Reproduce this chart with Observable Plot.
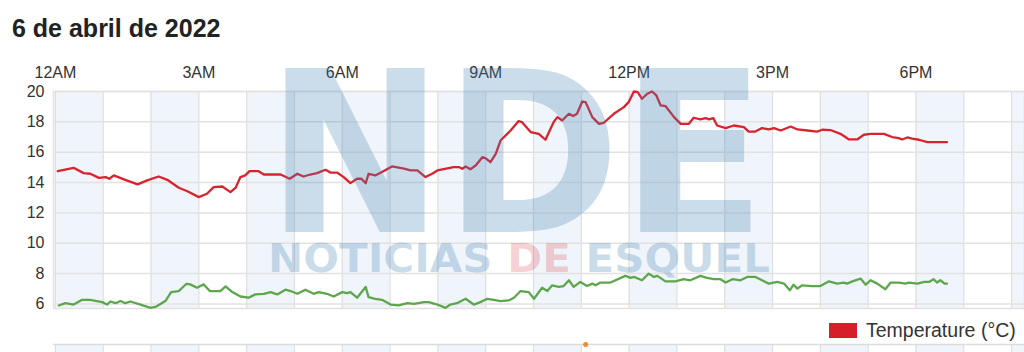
<!DOCTYPE html>
<html>
<head>
<meta charset="utf-8">
<script src="https://cdn.jsdelivr.net/npm/d3@7"></script>
<script src="https://cdn.jsdelivr.net/npm/@observablehq/plot@0.6"></script>
<style>
  html, body { margin: 0; padding: 0; background: #fff; width: 1024px; height: 352px; overflow: hidden; position: relative; font-family: "Liberation Sans", Arial, sans-serif; }
  #title { position: absolute; left: 12px; top: 16px; font-size: 25px; line-height: 25px; font-weight: bold; color: #222; white-space: nowrap; }
  #main { position: absolute; left: 0; top: 50px; }
  #legend { position: absolute; left: 829px; top: 320px; height: 20px; display: flex; align-items: center; font-size: 19.5px; color: #333; white-space: nowrap; }
  #legend .sw { width: 28px; height: 15px; background: #d61f2b; margin-right: 9px; }
  #second { position: absolute; left: 0; top: 343px; }
  #wm { position: absolute; left: 0; top: 0; pointer-events: none; }
</style>
</head>
<body>
<div id="title">6 de abril de 2022</div>
<div id="main"></div>
<div id="legend"><div class="sw"></div><span>Temperature (°C)</span></div>
<div id="second"></div>
<svg id="wm" width="1024" height="352" xmlns="http://www.w3.org/2000/svg">
  <text x="266" y="232" font-family="DejaVu Sans, sans-serif" font-weight="bold" font-size="225" textLength="500" lengthAdjust="spacingAndGlyphs" fill="rgba(70,130,180,0.28)">NDE</text>
  <text x="268" y="272" font-family="DejaVu Sans, sans-serif" font-weight="bold" font-size="39" textLength="502" lengthAdjust="spacingAndGlyphs" fill="rgba(70,130,180,0.28)">NOTICIAS <tspan fill="rgba(220,50,60,0.24)">DE</tspan> ESQUEL</text>
</svg>
<script>
// ---- data (hours since midnight, °C) ----
const xTicks = [0, 3, 6, 9, 12, 15, 18];
const xTickLabels = ["12AM", "3AM", "6AM", "9AM", "12PM", "3PM", "6PM"];
const yTicks = [6, 8, 10, 12, 14, 16, 18, 20];
const yTickLabels = ["6", "8", "10", "12", "14", "16", "18", "20"];

const tempHours = [0.05,0.38,0.59,0.73,0.91,1.05,1.13,1.22,1.46,1.72,1.92,2.16,2.34,2.58,2.76,3.00,3.17,3.31,3.49,3.66,3.77,3.87,3.97,4.06,4.25,4.36,4.71,4.90,5.06,5.19,5.33,5.47,5.65,5.75,5.89,6.03,6.17,6.31,6.40,6.49,6.55,6.69,6.83,7.04,7.29,7.43,7.57,7.74,7.88,7.99,8.12,8.33,8.44,8.51,8.58,8.68,8.79,8.93,9.00,9.10,9.21,9.31,9.52,9.69,9.76,9.94,10.11,10.25,10.42,10.50,10.60,10.74,10.83,10.91,11.02,11.09,11.23,11.37,11.47,11.68,11.89,11.99,12.10,12.18,12.27,12.38,12.48,12.57,12.66,12.76,12.94,13.08,13.25,13.35,13.49,13.60,13.67,13.76,13.84,14.02,14.19,14.40,14.50,14.64,14.78,14.92,15.03,15.17,15.38,15.52,15.73,15.93,16.04,16.21,16.42,16.60,16.77,16.91,17.05,17.33,17.50,17.64,17.71,17.82,17.92,18.06,18.24,18.65];
const tempValues = [14.75,14.97,14.62,14.58,14.31,14.36,14.25,14.47,14.18,13.88,14.14,14.40,14.18,13.66,13.43,13.04,13.26,13.70,13.74,13.37,13.66,14.36,14.47,14.75,14.75,14.53,14.53,14.25,14.58,14.40,14.53,14.62,14.84,14.66,14.66,14.36,13.96,14.25,14.25,13.96,14.58,14.47,14.69,15.06,14.91,14.80,14.80,14.36,14.58,14.80,14.88,15.02,15.02,14.91,15.06,14.88,15.12,15.67,15.60,15.34,15.89,16.77,17.43,18.05,17.98,17.33,17.21,16.82,17.98,18.31,18.09,18.53,18.38,18.53,19.34,19.30,18.31,17.87,17.94,18.53,18.97,19.30,20.00,19.96,19.52,19.85,20.00,19.74,19.08,19.04,18.31,17.87,17.87,18.27,18.16,18.25,18.16,18.25,17.76,17.59,17.76,17.65,17.36,17.36,17.59,17.50,17.59,17.43,17.69,17.50,17.43,17.36,17.48,17.46,17.21,16.84,16.84,17.15,17.21,17.21,17.00,16.93,16.84,16.97,16.89,16.82,16.67,16.67];

const dewHours = [0.07,0.21,0.38,0.56,0.73,0.98,1.08,1.15,1.26,1.36,1.46,1.57,1.78,1.99,2.11,2.30,2.42,2.58,2.74,2.82,2.96,3.10,3.23,3.45,3.56,3.70,3.87,4.04,4.18,4.36,4.50,4.64,4.81,4.92,5.06,5.23,5.40,5.51,5.68,5.82,6.00,6.10,6.17,6.31,6.49,6.55,6.69,6.83,7.01,7.18,7.36,7.50,7.71,7.81,7.99,8.16,8.26,8.40,8.58,8.75,8.89,9.03,9.17,9.31,9.48,9.59,9.73,9.90,10.01,10.18,10.29,10.39,10.53,10.63,10.74,10.84,10.98,11.12,11.23,11.30,11.40,11.61,11.92,12.03,12.10,12.27,12.41,12.52,12.59,12.76,12.97,13.14,13.28,13.49,13.63,13.77,13.91,14.02,14.16,14.33,14.47,14.64,14.78,14.92,15.10,15.24,15.36,15.44,15.52,15.62,15.83,16.00,16.18,16.35,16.49,16.56,16.67,16.84,16.95,17.05,17.19,17.36,17.47,17.64,17.78,17.85,18.03,18.17,18.27,18.37,18.44,18.51,18.60,18.65];
const dewValues = [5.90,6.05,5.96,6.27,6.27,6.12,5.96,6.16,6.05,6.19,6.05,6.16,5.96,5.74,5.83,6.19,6.78,6.85,7.33,7.29,7.07,7.29,6.85,6.85,7.16,6.78,6.49,6.41,6.63,6.67,6.78,6.63,6.94,6.85,6.67,6.94,6.67,6.78,6.67,6.49,6.78,6.72,6.78,6.41,7.12,6.45,6.34,6.27,5.96,5.90,6.05,6.01,6.12,6.12,5.96,5.74,5.96,6.05,6.34,5.96,6.12,6.34,6.27,6.19,6.23,6.41,6.85,6.78,6.34,7.07,6.85,7.23,7.12,7.18,7.56,7.12,7.45,7.18,7.34,7.23,7.41,7.41,7.85,7.72,7.78,7.56,8.00,7.78,7.85,7.49,7.49,7.63,7.56,7.85,7.72,7.63,7.63,7.41,7.63,7.56,7.78,7.78,7.56,7.34,7.45,7.34,6.90,7.27,7.01,7.23,7.18,7.18,7.49,7.34,7.41,7.34,7.49,7.67,7.27,7.56,7.34,6.97,7.41,7.41,7.34,7.41,7.34,7.45,7.45,7.63,7.41,7.56,7.34,7.34];

const bandStarts = [0, 2, 4, 6, 8, 10, 12, 14, 16, 18, 20];
const hourGrid = d3.range(0, 21);
const lowerPanelDot = [11.09];

const temp = tempHours.map((h, i) => ({h, v: tempValues[i]}));
const dew = dewHours.map((h, i) => ({h, v: dewValues[i]}));

const xDomain = [-0.04, 20.27];

const chart = Plot.plot({
  width: 1024,
  height: 260,
  marginTop: 41,
  marginBottom: 2,
  marginLeft: 53,
  marginRight: 0,
  style: {fontFamily: "Liberation Sans, Arial, sans-serif", fontSize: "16px", color: "#333", background: "transparent", overflow: "visible"},
  x: {domain: xDomain, axis: "top", ticks: xTicks, tickFormat: d => xTickLabels[xTicks.indexOf(d)], tickSize: 0, tickPadding: 14, label: null},
  y: {domain: [5.7, 20], ticks: yTicks, tickFormat: d => yTickLabels[yTicks.indexOf(d)], tickSize: 0, tickPadding: 9, label: null},
  marks: [
    Plot.rect(bandStarts, {x1: d => d, x2: d => d + 1, fill: "#eff5fa"}),
    Plot.gridX(hourGrid, {stroke: "#dedede", strokeOpacity: 1, strokeWidth: 1.2}),
    Plot.gridY(yTicks, {stroke: "#e2e2e2", strokeOpacity: 1, strokeWidth: 1.5}),
    Plot.frame({stroke: "#e2e2e2", strokeWidth: 1.5}),
    Plot.line(dew, {x: "h", y: "v", stroke: "#5da64e", strokeWidth: 2.3}),
    Plot.line(temp, {x: "h", y: "v", stroke: "#d9232f", strokeWidth: 2.3})
  ]
});
document.getElementById("main").appendChild(chart);

const second = Plot.plot({
  width: 1024,
  height: 9,
  marginTop: 1,
  marginBottom: 0,
  marginLeft: 53,
  marginRight: 0,
  style: {background: "transparent", overflow: "visible"},
  x: {domain: xDomain, axis: null},
  y: {axis: null},
  marks: [
    Plot.rect(bandStarts, {x1: d => d, x2: d => d + 1, fill: "#eff5fa"}),
    Plot.gridX(hourGrid, {stroke: "#dedede", strokeOpacity: 1, strokeWidth: 1.2}),
    Plot.frame({anchor: "top", stroke: "#dcdcdc", strokeWidth: 1.5}),
    Plot.dot(lowerPanelDot, {x: d => d, frameAnchor: "top", r: 2.5, fill: "#f58a2c"})
  ]
});
document.getElementById("second").appendChild(second);
</script>
</body>
</html>
